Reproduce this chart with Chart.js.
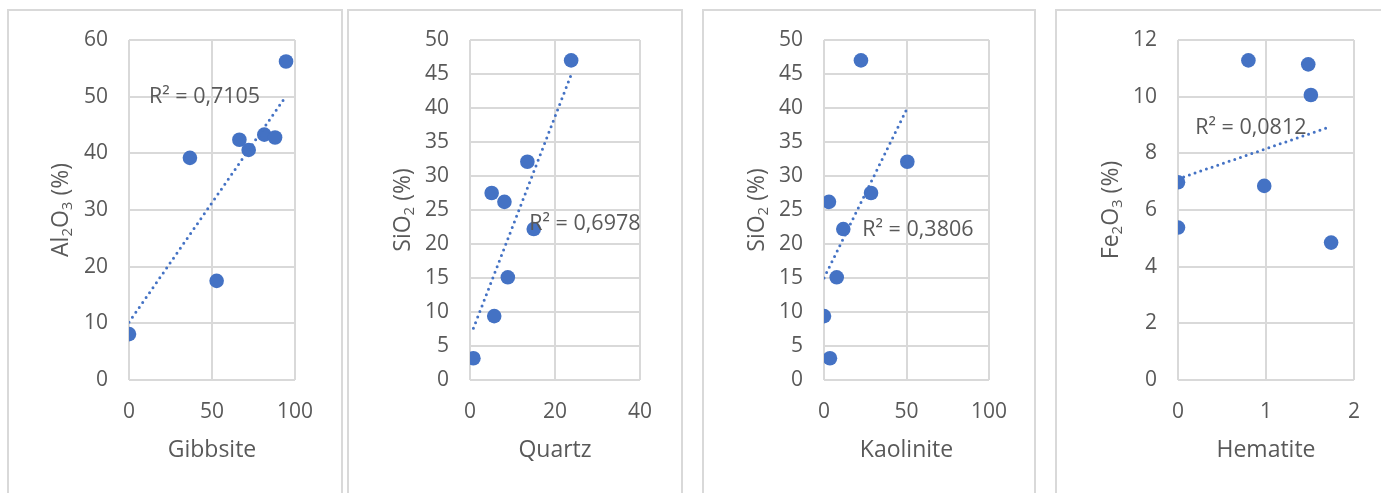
<!DOCTYPE html>
<html><head><meta charset="utf-8">
<script src="https://cdn.jsdelivr.net/npm/chart.js@4.4.1/dist/chart.umd.min.js"></script>
<style>
html,body{margin:0;padding:0;background:#fff;width:1381px;height:493px;overflow:hidden;position:relative}
.frame{position:absolute;box-sizing:border-box;border:2px solid #d9d9d9;height:620px;top:9px}
canvas{position:absolute;left:0;top:0}
</style></head><body>
<div class="frame" style="left:7px;width:336px"></div>
<div class="frame" style="left:347px;width:336px"></div>
<div class="frame" style="left:702px;width:334px"></div>
<div class="frame" style="left:1055px;width:400px"></div>
<canvas id="c1" width="1381" height="493"></canvas>
<canvas id="c2" width="1381" height="493"></canvas>
<canvas id="c3" width="1381" height="493"></canvas>
<canvas id="c4" width="1381" height="493"></canvas>
<script>
// ---- data ----
const gibbsite  = [0, 36.7, 52.8, 66.5, 72.1, 81.5, 88.0, 94.6];
const al2o3     = [8.1, 39.2, 17.5, 42.4, 40.6, 43.3, 42.8, 56.2];

const sio2      = [3.2, 9.4, 27.5, 26.2, 15.1, 32.1, 22.2, 47.0];
const quartz    = [0.8, 5.7, 5.1, 8.1, 8.9, 13.5, 15.0, 23.8];
const kaolinite = [3.6, 0, 28.5, 3.0, 7.7, 50.5, 11.7, 22.4];

const hematite  = [0, 0, 0.80, 0.98, 1.48, 1.51, 1.74];
const fe2o3     = [6.98, 5.38, 11.28, 6.85, 11.14, 10.06, 4.85];

// trendline end points
const trendGibbsiteX = [0, 94.6],  trendGibbsiteY = [10.2, 50.1];
const trendQuartzX   = [0.8, 23.8], trendQuartzY  = [7.6, 44.9];
const trendKaolX     = [0, 50.5],  trendKaolY     = [15.0, 40.0];
const trendHemX      = [0, 1.74],  trendHemY      = [7.1, 8.95];

const r2Labels = ['R\u00B2 = 0,7105', 'R\u00B2 = 0,6978', 'R\u00B2 = 0,3806', 'R\u00B2 = 0,0812'];
const xTitles  = ['Gibbsite', 'Quartz', 'Kaolinite', 'Hematite'];
// y titles as [text, isSubscript] runs
const yTitles  = [
  [['Al', 0], ['2', 1], ['O', 0], ['3', 1], [' (%)', 0]],
  [['SiO', 0], ['2', 1], [' (%)', 0]],
  [['SiO', 0], ['2', 1], [' (%)', 0]],
  [['Fe', 0], ['2', 1], ['O', 0], ['3', 1], [' (%)', 0]]
];

// ---- drawing ----
const BLUE = '#4472C4', TEXT = '#595959', GRID = '#d9d9d9';
const FONT = '"Open Sans", "Noto Sans", sans-serif';
const TICK_SIZE = 21, TITLE_SIZE = 23, SUB_SIZE = 15;
const W = 1381, H = 493, PLOT_TOP = 40, PLOT_BOTTOM = 380, XAXIS_H = 100;

const textPlugin = {
  id: 'texts',
  afterDatasetsDraw(chart, args, opts) {
    const {ctx, scales, chartArea} = chart;
    ctx.save();
    // R² label
    ctx.font = '21.5px ' + FONT;
    ctx.fillStyle = TEXT;
    ctx.textAlign = 'left';
    ctx.textBaseline = 'middle';
    ctx.fillText(opts.r2, scales.x.getPixelForValue(opts.r2x), scales.y.getPixelForValue(opts.r2y));
    // rotated y title with real subscripts
    const runs = opts.yTitle;
    const fontOf = sub => (sub ? SUB_SIZE : TITLE_SIZE) + 'px ' + FONT;
    let total = 0;
    const widths = runs.map(([t, s]) => { ctx.font = fontOf(s); const w = ctx.measureText(t).width; total += w; return w; });
    ctx.translate(opts.yTitleX, (chartArea.top + chartArea.bottom) / 2);
    ctx.rotate(-Math.PI / 2);
    ctx.textBaseline = 'alphabetic';
    let x = -total / 2;
    const base = TITLE_SIZE * 0.36;
    runs.forEach(([t, s], i) => {
      ctx.font = fontOf(s);
      ctx.fillText(t, x, base + (s ? 4 : 0));
      x += widths[i];
    });
    ctx.restore();
  }
};

function pts(xs, ys) { return xs.map((v, i) => ({x: v, y: ys[i]})); }

function panel(id, cfg) {
  const yAxisLeft = cfg.yTitleX - 14;
  new Chart(document.getElementById(id), {
    type: 'scatter',
    data: {
      datasets: [
        { data: pts(cfg.tx, cfg.ty), showLine: true, borderColor: BLUE, borderWidth: 3,
          borderDash: [0, 6], borderCapStyle: 'round', pointRadius: 0, order: 0, fill: false },
        { data: pts(cfg.xs, cfg.ys), backgroundColor: BLUE, borderColor: BLUE, borderWidth: 0,
          pointRadius: 7.3, order: 1 }
      ]
    },
    options: {
      responsive: false, animation: false, events: [],
      layout: { padding: { left: yAxisLeft, top: PLOT_TOP, right: W - cfg.plotRight, bottom: H - PLOT_BOTTOM - XAXIS_H } },
      plugins: { legend: { display: false }, tooltip: { enabled: false },
        texts: { r2: cfg.r2, r2x: cfg.r2x, r2y: cfg.r2y, yTitle: cfg.yTitle, yTitleX: cfg.yTitleX } },
      scales: {
        x: { type: 'linear', min: cfg.xMin, max: cfg.xMax,
          ticks: { stepSize: cfg.xStep, color: TEXT, font: { family: FONT, size: TICK_SIZE }, padding: 19 },
          grid: { color: GRID, lineWidth: 2, drawTicks: false },
          border: { display: false },
          title: { display: true, text: cfg.xTitle, color: TEXT, font: { family: FONT, size: TITLE_SIZE },
            padding: { top: 0, bottom: 16 } },
          afterFit: s => { s.height = XAXIS_H; } },
        y: { type: 'linear', min: cfg.yMin, max: cfg.yMax,
          ticks: { stepSize: cfg.yStep, color: TEXT, font: { family: FONT, size: TICK_SIZE }, padding: 21 },
          grid: { color: GRID, lineWidth: 2, drawTicks: false },
          border: { display: false },
          title: { display: false },
          afterFit: s => { s.width = cfg.plotLeft - yAxisLeft; } }
      }
    },
    plugins: [textPlugin]
  });
}

panel('c1', { xs: gibbsite, ys: al2o3, tx: trendGibbsiteX, ty: trendGibbsiteY,
  xMin: 0, xMax: 100, xStep: 50, yMin: 0, yMax: 60, yStep: 10,
  xTitle: xTitles[0], yTitle: yTitles[0], r2: r2Labels[0], r2x: 12, r2y: 50,
  plotLeft: 129, plotRight: 295, yTitleX: 60 });
panel('c2', { xs: quartz, ys: sio2, tx: trendQuartzX, ty: trendQuartzY,
  xMin: 0, xMax: 40, xStep: 20, yMin: 0, yMax: 50, yStep: 5,
  xTitle: xTitles[1], yTitle: yTitles[1], r2: r2Labels[1], r2x: 13.95, r2y: 23.0,
  plotLeft: 470, plotRight: 640, yTitleX: 402 });
panel('c3', { xs: kaolinite, ys: sio2, tx: trendKaolX, ty: trendKaolY,
  xMin: 0, xMax: 100, xStep: 50, yMin: 0, yMax: 50, yStep: 5,
  xTitle: xTitles[2], yTitle: yTitles[2], r2: r2Labels[2], r2x: 23.2, r2y: 22.06,
  plotLeft: 824, plotRight: 989, yTitleX: 756 });
panel('c4', { xs: hematite, ys: fe2o3, tx: trendHemX, ty: trendHemY,
  xMin: 0, xMax: 2, xStep: 1, yMin: 0, yMax: 12, yStep: 2,
  xTitle: xTitles[3], yTitle: yTitles[3], r2: r2Labels[3], r2x: 0.196, r2y: 8.9,
  plotLeft: 1178, plotRight: 1354, yTitleX: 1110 });
</script>
</body></html>
